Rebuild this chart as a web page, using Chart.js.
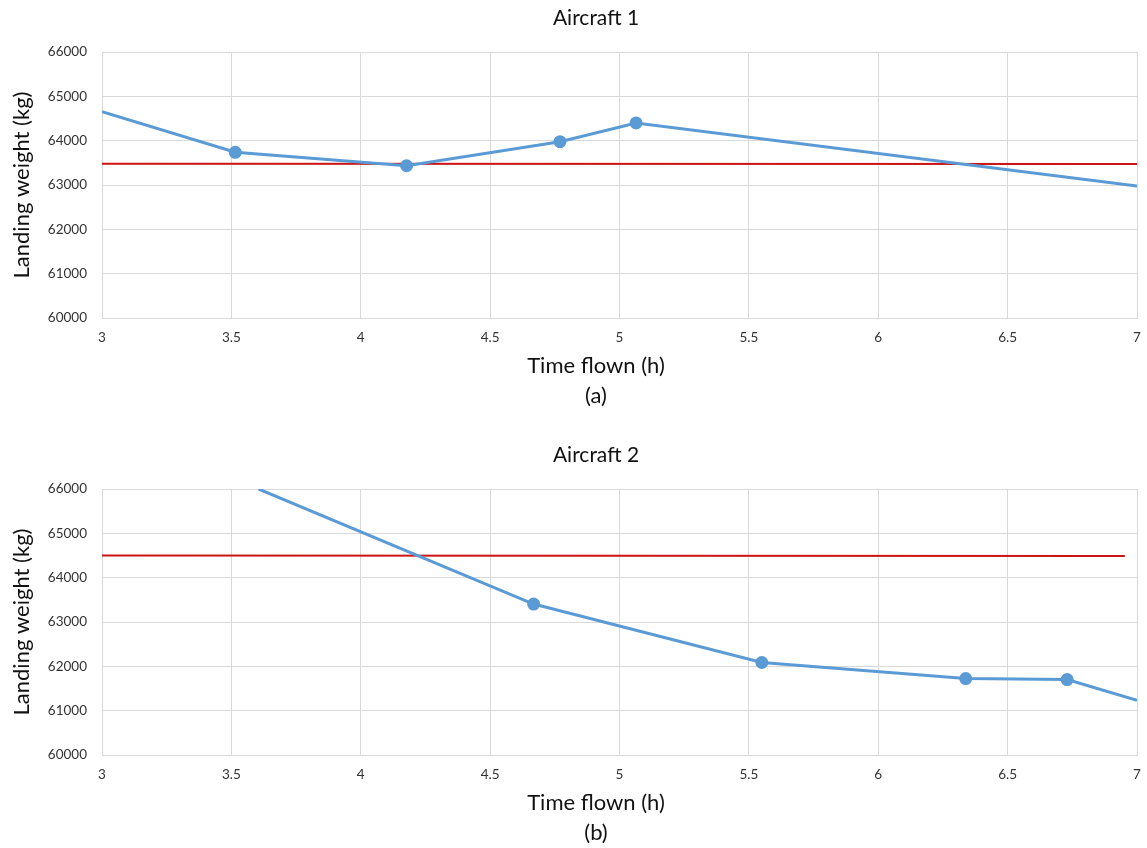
<!DOCTYPE html>
<html>
<head>
  <meta charset="utf-8" />
  <title>Landing weight vs time flown</title>
  <script src="https://cdn.jsdelivr.net/npm/chart.js"></script>
  <style>
    html, body { margin: 0; padding: 0; background: #fff; overflow: hidden; }
    .panel { position: absolute; left: 0; }
    #panelA { top: 0; }
    #panelB { top: 437px; }
  </style>
</head>
<body>
  <div class="panel" id="panelA"><canvas id="chartA" width="1147" height="412"></canvas></div>
  <div class="panel" id="panelB"><canvas id="chartB" width="1147" height="412"></canvas></div>

  <script>
    // Axis ranges (both panels share them)
    const xMin = 3, xMax = 7, xStep = 0.5;
    const yMin = 60000, yMax = 66000, yStep = 1000;

    // Aircraft 1 - landing weight curve (first and last values are where the line leaves the plot)
    const timesA   = [3, 3.515, 4.177, 4.770, 5.064, 7];
    const weightsA = [64656, 63738, 63434, 63977, 64400, 62975];
    // Aircraft 1 - red reference line
    const limitTimesA   = [3, 7];
    const limitWeightsA = [63480, 63473];

    // Aircraft 2 - landing weight curve (first value is where the line enters from the top)
    const timesB   = [3.605, 4.668, 5.550, 6.338, 6.730, 7];
    const weightsB = [66000, 63405, 62086, 61724, 61701, 61233];
    // Aircraft 2 - red reference line
    const limitTimesB   = [3, 6.953];
    const limitWeightsB = [64500, 64490];

    const FONT = "Lato, 'Open Sans', sans-serif";
    const BLUE = '#5B9BD5';
    const RED = '#CC1414';
    const GRID = '#d9d9d9';

    function toPoints(xs, ys) {
      return xs.map((x, i) => ({ x: x, y: ys[i] }));
    }

    // points sitting on the edge of the plot are just where the line is cut, no marker
    function markerRadius(ctx) {
      const p = ctx.raw;
      if (!p) return 0;
      if (p.x <= xMin || p.x >= xMax || p.y <= yMin || p.y >= yMax) return 0;
      return 5;
    }

    function makeChart(canvasId, titleText, letter, xs, ys, limX, limY) {
      const ctx = document.getElementById(canvasId).getContext('2d');
      return new Chart(ctx, {
        type: 'line',
        data: {
          datasets: [
            {
              label: 'Landing weight',
              data: toPoints(xs, ys),
              borderColor: BLUE,
              backgroundColor: BLUE,
              pointBackgroundColor: BLUE,
              pointBorderColor: BLUE,
              borderWidth: 3,
              pointRadius: markerRadius,
              tension: 0,
              fill: false
            },
            {
              label: 'Limit',
              data: toPoints(limX, limY),
              borderColor: RED,
              borderWidth: 2,
              pointRadius: 0,
              tension: 0,
              fill: false
            }
          ]
        },
        options: {
          responsive: false,
          animation: false,
          devicePixelRatio: 1,
          // negative right padding shifts the centred titles left, like the original
          layout: { padding: { left: 0, right: -45, top: 0, bottom: 0 } },
          plugins: {
            legend: { display: false },
            tooltip: { enabled: false },
            title: {
              display: true,
              text: titleText,
              color: '#111',
              font: { family: FONT, size: 21, weight: 'normal', lineHeight: 1.2 },
              padding: { top: 5.4, bottom: 21.4 }
            },
            subtitle: {
              display: true,
              position: 'bottom',
              text: ['Time flown (h)', letter],
              color: '#111',
              font: { family: FONT, size: 22, weight: 'normal', lineHeight: 30 / 22 },
              padding: { top: 5, bottom: 1 }
            }
          },
          scales: {
            x: {
              type: 'linear',
              min: xMin,
              max: xMax,
              afterFit: (scale) => { scale.height = 28; scale.paddingRight = 10; },
              ticks: {
                stepSize: xStep,
                padding: 12,
                color: '#333',
                font: { family: FONT, size: 13.5 },
                callback: (v) => String(v)
              },
              grid: { color: GRID, drawTicks: false },
              border: { color: GRID }
            },
            y: {
              min: yMin,
              max: yMax,
              afterFit: (scale) => { scale.width = 102; },
              ticks: {
                stepSize: yStep,
                padding: 15,
                color: '#333',
                font: { family: FONT, size: 13.5 },
                callback: (v) => String(v)
              },
              grid: { color: GRID, drawTicks: false },
              border: { color: GRID },
              title: {
                display: true,
                text: 'Landing weight (kg)',
                color: '#111',
                font: { family: FONT, size: 22, lineHeight: 1.2 },
                padding: { top: 8.8, bottom: 0 }
              }
            }
          }
        }
      });
    }

    makeChart('chartA', 'Aircraft 1', '(a)', timesA, weightsA, limitTimesA, limitWeightsA);
    makeChart('chartB', 'Aircraft 2', '(b)', timesB, weightsB, limitTimesB, limitWeightsB);
  </script>
</body>
</html>
